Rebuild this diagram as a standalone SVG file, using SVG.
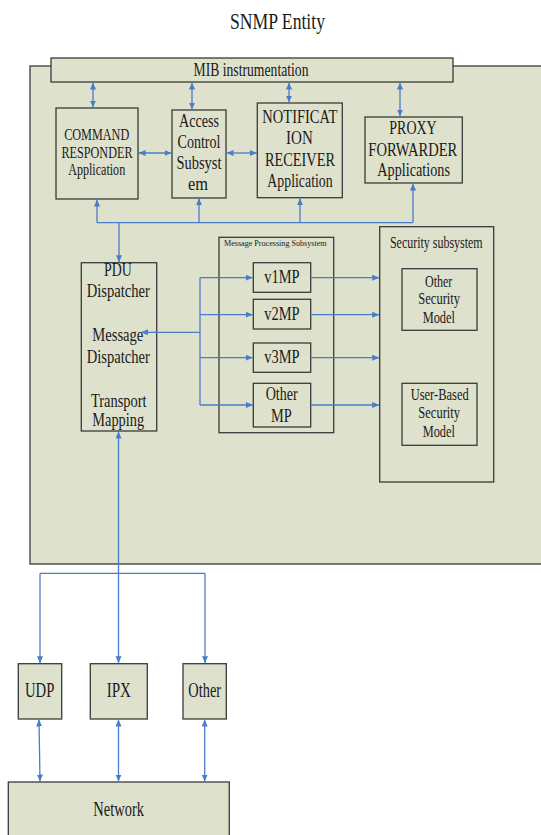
<svg xmlns="http://www.w3.org/2000/svg" width="541" height="835" viewBox="0 0 541 835">
<style>
.box{fill:#dee1cc;stroke:#3a3a3a;stroke-width:1.3}
.t{font-family:'Liberation Serif','Times New Roman',Times,'DejaVu Serif',serif;fill:#1a1a1a;text-anchor:middle}
.c{fill:none;stroke:#4a7cc8;stroke-width:1.3}
.a{marker-end:url(#ah)}
.b{marker-start:url(#ah);marker-end:url(#ah)}
</style>
<defs>
<marker id="ah" markerUnits="userSpaceOnUse" markerWidth="8" markerHeight="7" refX="7" refY="3" orient="auto-start-reverse">
<path d="M0,0 L7,3 L0,6 z" fill="#4a7cc8"/>
</marker>
</defs>
<rect width="541" height="835" fill="#fff"/>
<text class="t" x="277.5" y="29" font-size="23" textLength="95" lengthAdjust="spacingAndGlyphs">SNMP Entity</text>
<g id="entity"><rect class="box" x="30" y="66" width="530" height="498"/></g>
<g id="mib"><rect class="box" x="51" y="58" width="402" height="24"/>
<text class="t" x="251" y="76" font-size="19" textLength="115" lengthAdjust="spacingAndGlyphs">MIB instrumentation</text></g>
<g id="cmdresp"><rect class="box" x="56" y="108" width="82" height="91"/>
<text class="t" x="96.7" y="140" font-size="16" textLength="65" lengthAdjust="spacingAndGlyphs">COMMAND</text>
<text class="t" x="97" y="157.7" font-size="16" textLength="71" lengthAdjust="spacingAndGlyphs">RESPONDER</text>
<text class="t" x="96.7" y="175" font-size="16" textLength="57" lengthAdjust="spacingAndGlyphs">Application</text></g>
<g id="access"><rect class="box" x="172" y="110" width="54" height="88"/>
<text class="t" x="199" y="127.3" font-size="18" textLength="40" lengthAdjust="spacingAndGlyphs">Access</text>
<text class="t" x="199" y="148.3" font-size="18" textLength="43" lengthAdjust="spacingAndGlyphs">Control</text>
<text class="t" x="199" y="169" font-size="18" textLength="45" lengthAdjust="spacingAndGlyphs">Subsyst</text>
<text class="t" x="198" y="190" font-size="18" textLength="20" lengthAdjust="spacingAndGlyphs">em</text></g>
<g id="notif"><rect class="box" x="257.3" y="103" width="85" height="94.7"/>
<text class="t" x="299.8" y="123.3" font-size="19" textLength="75" lengthAdjust="spacingAndGlyphs">NOTIFICAT</text>
<text class="t" x="299.4" y="144.3" font-size="19" textLength="26.7" lengthAdjust="spacingAndGlyphs">ION</text>
<text class="t" x="300" y="166" font-size="19" textLength="70" lengthAdjust="spacingAndGlyphs">RECEIVER</text>
<text class="t" x="300" y="186.5" font-size="19" textLength="65.3" lengthAdjust="spacingAndGlyphs">Application</text></g>
<g id="proxy"><rect class="box" x="365" y="117" width="97.3" height="66"/>
<text class="t" x="413" y="134.3" font-size="19" textLength="47.3" lengthAdjust="spacingAndGlyphs">PROXY</text>
<text class="t" x="412.8" y="155.7" font-size="19" textLength="89" lengthAdjust="spacingAndGlyphs">FORWARDER</text>
<text class="t" x="413.6" y="176" font-size="19" textLength="72.7" lengthAdjust="spacingAndGlyphs">Applications</text></g>
<g id="pdu"><rect class="box" x="81.3" y="262.7" width="75.4" height="168.3"/>
<text class="t" x="117.8" y="276" font-size="19" textLength="27.7" lengthAdjust="spacingAndGlyphs">PDU</text>
<text class="t" x="118.3" y="297" font-size="19" textLength="63.3" lengthAdjust="spacingAndGlyphs">Dispatcher</text>
<text class="t" x="117.8" y="341" font-size="19" textLength="51" lengthAdjust="spacingAndGlyphs">Message</text>
<text class="t" x="118.3" y="363" font-size="19" textLength="63.3" lengthAdjust="spacingAndGlyphs">Dispatcher</text>
<text class="t" x="118.8" y="406.5" font-size="19" textLength="55.7" lengthAdjust="spacingAndGlyphs">Transport</text>
<text class="t" x="118.2" y="426" font-size="19" textLength="51.7" lengthAdjust="spacingAndGlyphs">Mapping</text></g>
<g id="mps"><rect class="box" x="219" y="237.3" width="114.7" height="195.4"/>
<text class="t" x="275.3" y="245.5" font-size="9" textLength="102.7" lengthAdjust="spacingAndGlyphs">Message Processing Subsystem</text></g>
<g id="v1mp"><rect class="box" x="253.3" y="262.7" width="57.4" height="29.6"/>
<text class="t" x="282" y="283.3" font-size="19" textLength="35.3" lengthAdjust="spacingAndGlyphs">v1MP</text></g>
<g id="v2mp"><rect class="box" x="253.3" y="299.3" width="57.4" height="29.7"/>
<text class="t" x="282" y="320" font-size="19" textLength="35.3" lengthAdjust="spacingAndGlyphs">v2MP</text></g>
<g id="v3mp"><rect class="box" x="253.3" y="343" width="57.4" height="29.3"/>
<text class="t" x="282" y="363.3" font-size="19" textLength="35.3" lengthAdjust="spacingAndGlyphs">v3MP</text></g>
<g id="othermp"><rect class="box" x="253.3" y="383.3" width="57.4" height="43.7"/>
<text class="t" x="281.7" y="400" font-size="19" textLength="32" lengthAdjust="spacingAndGlyphs">Other</text>
<text class="t" x="281.3" y="421.7" font-size="19" textLength="20.7" lengthAdjust="spacingAndGlyphs">MP</text></g>
<g id="security"><rect class="box" x="379.7" y="226.7" width="114" height="255.3"/>
<text class="t" x="436.3" y="248" font-size="16" textLength="92.7" lengthAdjust="spacingAndGlyphs">Security subsystem</text></g>
<g id="othersec"><rect class="box" x="402" y="268.7" width="75" height="61.6"/>
<text class="t" x="438.7" y="286.7" font-size="17" textLength="27.3" lengthAdjust="spacingAndGlyphs">Other</text>
<text class="t" x="439.2" y="304" font-size="17" textLength="41.7" lengthAdjust="spacingAndGlyphs">Security</text>
<text class="t" x="438.8" y="322.7" font-size="17" textLength="32.3" lengthAdjust="spacingAndGlyphs">Model</text></g>
<g id="usm"><rect class="box" x="402" y="383.3" width="75" height="62"/>
<text class="t" x="439.7" y="400" font-size="17" textLength="58" lengthAdjust="spacingAndGlyphs">User-Based</text>
<text class="t" x="439.2" y="417.7" font-size="17" textLength="41.7" lengthAdjust="spacingAndGlyphs">Security</text>
<text class="t" x="438.8" y="436.7" font-size="17" textLength="32.3" lengthAdjust="spacingAndGlyphs">Model</text></g>
<g id="udp"><rect class="box" x="18.3" y="663.7" width="43.4" height="55.3"/>
<text class="t" x="39.7" y="697.3" font-size="20" textLength="29.3" lengthAdjust="spacingAndGlyphs">UDP</text></g>
<g id="ipx"><rect class="box" x="90.3" y="663.7" width="57" height="55.3"/>
<text class="t" x="118.8" y="697.3" font-size="20" textLength="24.3" lengthAdjust="spacingAndGlyphs">IPX</text></g>
<g id="other"><rect class="box" x="183" y="663.7" width="43.3" height="55.3"/>
<text class="t" x="204.7" y="697" font-size="20" textLength="32.7" lengthAdjust="spacingAndGlyphs">Other</text></g>
<g id="network"><rect class="box" x="8.3" y="782" width="221" height="70"/>
<text class="t" x="118.7" y="815.7" font-size="20" textLength="50.7" lengthAdjust="spacingAndGlyphs">Network</text></g>
<g id="connectors">
<path class="c b" d="M93,82.5 V107.5"/>
<path class="c b" d="M192,82.5 V109.5"/>
<path class="c b" d="M289,82.5 V102.5"/>
<path class="c b" d="M400,82.5 V116.5"/>
<path class="c b" d="M138.5,153 H171.5"/>
<path class="c b" d="M226.5,153 H256.8"/>
<path class="c" d="M97,222.7 H413"/>
<path class="c a" d="M97,222.7 V199.5"/>
<path class="c a" d="M199,222.7 V198.3"/>
<path class="c a" d="M300,222.7 V198.3"/>
<path class="c a" d="M413,222.7 V183.5"/>
<path class="c a" d="M119,222.7 V262.2"/>
<path class="c a" d="M200,332.3 H141"/>
<path class="c" d="M200,277.7 V405"/>
<path class="c a" d="M200,277.7 H252.8"/>
<path class="c a" d="M200,314.7 H252.8"/>
<path class="c a" d="M200,357.7 H252.8"/>
<path class="c a" d="M200,405 H252.8"/>
<path class="c a" d="M310.7,277.7 H379.2"/>
<path class="c a" d="M310.7,314.7 H379.2"/>
<path class="c a" d="M310.7,357.7 H379.2"/>
<path class="c a" d="M310.7,405 H379.2"/>
<path class="c b" d="M118.5,431.5 V663.2"/>
<path class="c" d="M40,573.3 H205"/>
<path class="c a" d="M40,573.3 V663.2"/>
<path class="c a" d="M205,573.3 V663.2"/>
<path class="c b" d="M39,719.5 L40,781.5"/>
<path class="c b" d="M118.5,719.5 V781.5"/>
<path class="c b" d="M204.7,719.5 V781.5"/>
</g>
</svg>
